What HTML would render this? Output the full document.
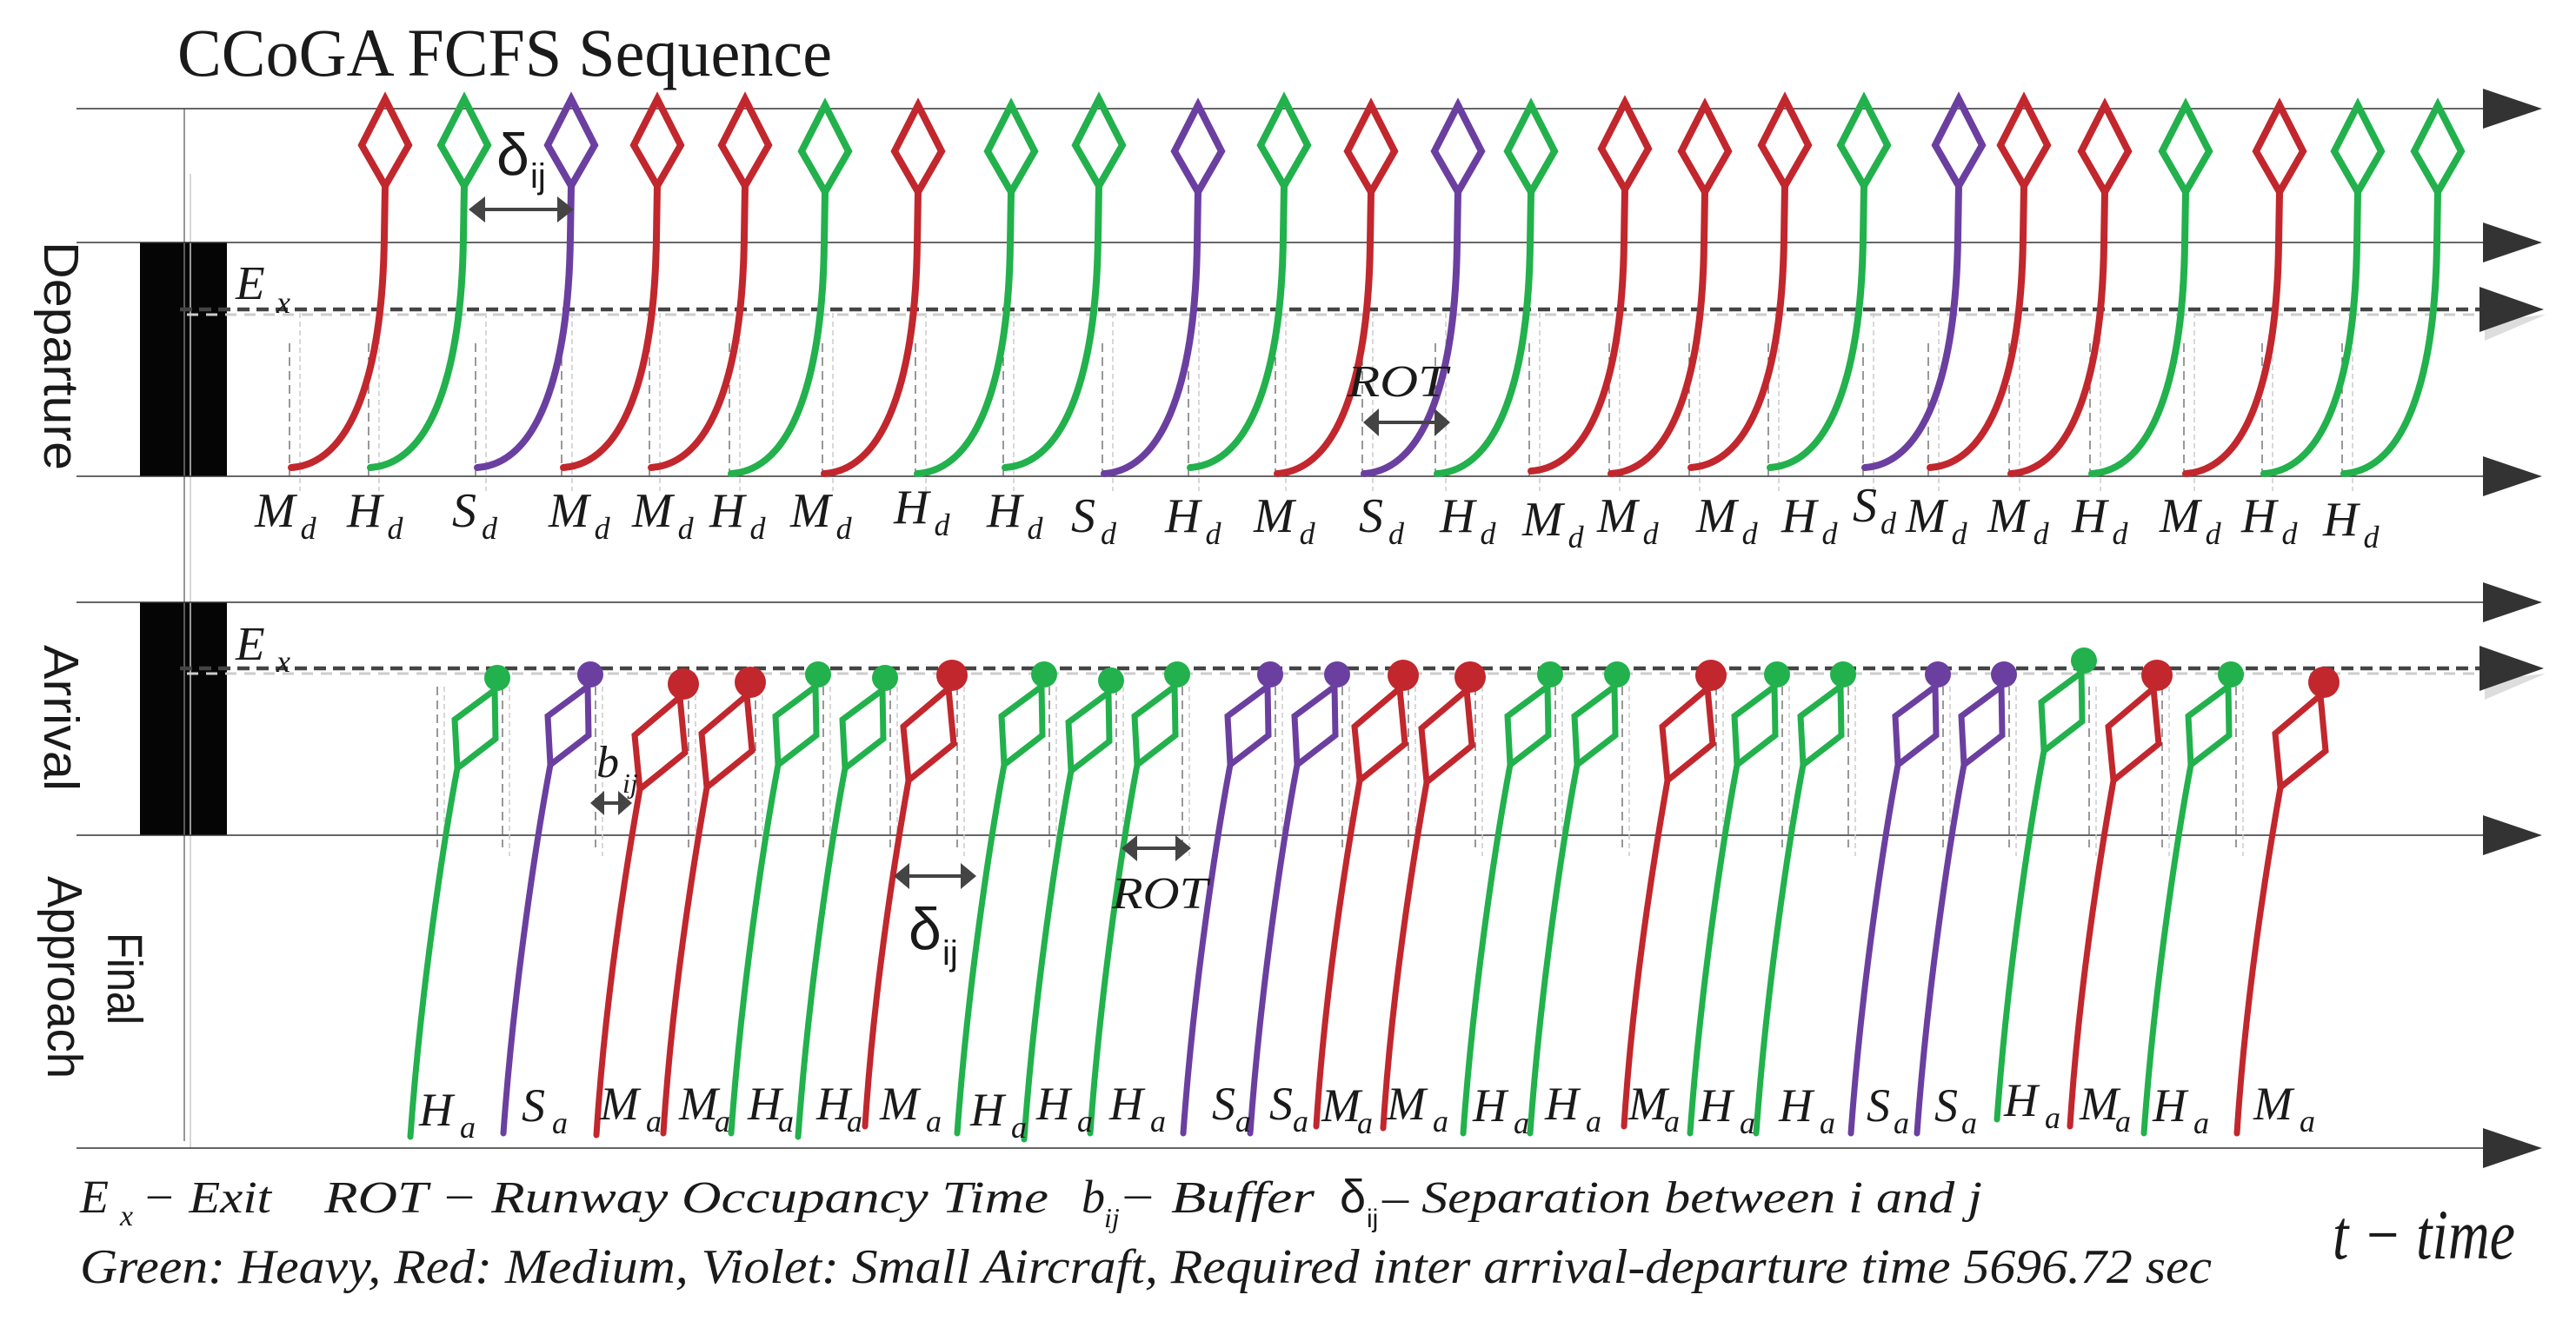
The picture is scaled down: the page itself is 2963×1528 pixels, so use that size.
<!DOCTYPE html>
<html><head><meta charset="utf-8"><style>
html,body{margin:0;padding:0;background:#fff;}
svg{display:block;}
.it{font-family:"Liberation Serif",serif;font-style:italic;fill:#1a1a1a;}
.sf{font-family:"Liberation Sans",sans-serif;fill:#1a1a1a;}
</style></head><body>
<svg width="2963" height="1528" viewBox="0 0 2963 1528" xmlns="http://www.w3.org/2000/svg">
<defs>
<g id="dep"><path d="M0,121 L27,174 L0,221 L-27,174 Z M0,221 L-1,280 C-3,430 -36,540 -108,545" fill="none" stroke="currentColor" stroke-width="8" stroke-linecap="round"/></g>
<g id="arrA"><circle cx="0" cy="0" r="15" fill="currentColor"/><path d="M0,0 L-3,14 L-49,48 L-46,104 L-2,70 L-3,14 M-46,104 C-62,190 -88,360 -100,528" fill="none" stroke="currentColor" stroke-width="7" stroke-linecap="round"/></g>
<g id="arrR"><circle cx="0" cy="9" r="18" fill="currentColor"/><path d="M0,9 L-4,24 L-56,68 L-50,130 L2,88 L-4,24 M-50,130 C-64,210 -90,370 -100,528" fill="none" stroke="currentColor" stroke-width="7" stroke-linecap="round"/></g>
</defs>

<text x="204" y="87" font-family="Liberation Serif, serif" font-size="78" fill="#1a1a1a" textLength="753" lengthAdjust="spacingAndGlyphs">CCoGA FCFS Sequence</text>

<rect x="161" y="279" width="100" height="269" fill="#050505"/>
<rect x="161" y="693" width="100" height="268" fill="#050505"/>
<line x1="212" y1="125" x2="212" y2="1313" stroke="#777" stroke-width="1.5"/>
<line x1="219" y1="200" x2="219" y2="1321" stroke="#ccc" stroke-width="1.5"/>

<g stroke="#333" stroke-width="1.5">
<line x1="88" y1="125" x2="2860" y2="125"/>
<line x1="88" y1="279" x2="2860" y2="279"/>
<line x1="88" y1="548" x2="2860" y2="548"/>
<line x1="88" y1="693" x2="2860" y2="693"/>
<line x1="88" y1="961" x2="2860" y2="961"/>
<line x1="88" y1="1321" x2="2860" y2="1321"/>
</g>
<g stroke="#ccc" stroke-width="3" stroke-dasharray="13 9">
<line x1="215" y1="362" x2="2900" y2="362"/>
<line x1="215" y1="775" x2="2900" y2="775"/>
</g>
<g stroke="#444" stroke-width="4.5" stroke-dasharray="14 8">
<line x1="207" y1="356" x2="2860" y2="356"/>
<line x1="207" y1="769" x2="2860" y2="769"/>
</g>
<g fill="#ddd">
<polygon points="2858,370 2928,362 2858,392"/>
<polygon points="2858,783 2928,775 2858,805"/>
</g>
<g fill="#333">
<polygon points="2856,102 2924,125 2856,148"/>
<polygon points="2856,256 2924,279 2856,302"/>
<polygon points="2852,330 2926,356 2852,382"/>
<polygon points="2856,525 2924,548 2856,571"/>
<polygon points="2856,670 2924,693 2856,716"/>
<polygon points="2852,743 2926,769 2852,795"/>
<polygon points="2856,938 2924,961 2856,984"/>
<polygon points="2856,1298 2924,1321 2856,1344"/>
</g>

<text class="sf" font-size="57" transform="translate(51,278) rotate(90)" textLength="263" lengthAdjust="spacingAndGlyphs">Departure</text>
<text class="sf" font-size="57" transform="translate(51,742) rotate(90)" textLength="168" lengthAdjust="spacingAndGlyphs">Arrival</text>
<text class="sf" font-size="57" transform="translate(55,1008) rotate(90)" textLength="233" lengthAdjust="spacingAndGlyphs">Approach</text>
<text class="sf" font-size="57" transform="translate(124,1073) rotate(90)" textLength="106" lengthAdjust="spacingAndGlyphs">Final</text>

<text class="it" x="271" y="344" font-size="55">E</text><text class="it" x="318" y="360" font-size="36">x</text>
<text class="it" x="271" y="759" font-size="55">E</text><text class="it" x="318" y="773" font-size="36">x</text>

<path d="M333,395V548M424,395V548M547,395V548M646,395V548M747,395V548M839,395V548M946,395V548M1053,395V548M1154,395V548M1268,395V548M1367,395V548M1467,395V548M1567,395V548M1651,395V548M1759,395V548M1851,395V548M1943,395V548M2034,395V548M2143,395V548M2218,395V548M2311,395V548M2404,395V548M2512,395V548M2602,395V548M2694,395V548" stroke="#555" stroke-width="1.2" stroke-dasharray="10 6" fill="none"/>
<path d="M345,360V565M436,360V565M559,360V565M658,360V565M759,360V565M851,360V565M958,360V565M1065,360V565M1166,360V565M1280,360V565M1379,360V565M1479,360V565M1579,360V565M1663,360V565M1771,360V565M1863,360V565M1955,360V565M2046,360V565M2155,360V565M2230,360V565M2323,360V565M2416,360V565M2524,360V565M2614,360V565M2706,360V565" stroke="#ccc" stroke-width="1.5" stroke-dasharray="6 4" fill="none"/>

<use href="#dep" x="443" y="-7" style="color:#c1272d"/>
<use href="#dep" x="534" y="-7" style="color:#22b14c"/>
<use href="#dep" x="657" y="-7" style="color:#6b3fa0"/>
<use href="#dep" x="756" y="-7" style="color:#c1272d"/>
<use href="#dep" x="857" y="-7" style="color:#c1272d"/>
<use href="#dep" x="949" y="0" style="color:#22b14c"/>
<use href="#dep" x="1056" y="0" style="color:#c1272d"/>
<use href="#dep" x="1163" y="0" style="color:#22b14c"/>
<use href="#dep" x="1264" y="-7" style="color:#22b14c"/>
<use href="#dep" x="1378" y="0" style="color:#6b3fa0"/>
<use href="#dep" x="1477" y="-7" style="color:#22b14c"/>
<use href="#dep" x="1577" y="0" style="color:#c1272d"/>
<use href="#dep" x="1677" y="0" style="color:#6b3fa0"/>
<use href="#dep" x="1761" y="0" style="color:#22b14c"/>
<use href="#dep" x="1869" y="-3" style="color:#c1272d"/>
<use href="#dep" x="1961" y="0" style="color:#c1272d"/>
<use href="#dep" x="2053" y="-7" style="color:#c1272d"/>
<use href="#dep" x="2144" y="-7" style="color:#22b14c"/>
<use href="#dep" x="2253" y="-7" style="color:#6b3fa0"/>
<use href="#dep" x="2328" y="-7" style="color:#c1272d"/>
<use href="#dep" x="2421" y="0" style="color:#c1272d"/>
<use href="#dep" x="2514" y="0" style="color:#22b14c"/>
<use href="#dep" x="2622" y="0" style="color:#c1272d"/>
<use href="#dep" x="2712" y="0" style="color:#22b14c"/>
<use href="#dep" x="2804" y="0" style="color:#22b14c"/>

<g class="it" font-size="56">
<text x="293" y="606">M<tspan font-size="36" dx="6" dy="14">d</tspan></text>
<text x="399" y="606">H<tspan font-size="36" dx="6" dy="14">d</tspan></text>
<text x="520" y="606">S<tspan font-size="36" dx="6" dy="14">d</tspan></text>
<text x="631" y="606">M<tspan font-size="36" dx="6" dy="14">d</tspan></text>
<text x="727" y="606">M<tspan font-size="36" dx="6" dy="14">d</tspan></text>
<text x="816" y="606">H<tspan font-size="36" dx="6" dy="14">d</tspan></text>
<text x="909" y="606">M<tspan font-size="36" dx="6" dy="14">d</tspan></text>
<text x="1028" y="602">H<tspan font-size="36" dx="6" dy="14">d</tspan></text>
<text x="1135" y="606">H<tspan font-size="36" dx="6" dy="14">d</tspan></text>
<text x="1232" y="612">S<tspan font-size="36" dx="6" dy="14">d</tspan></text>
<text x="1340" y="612">H<tspan font-size="36" dx="6" dy="14">d</tspan></text>
<text x="1442" y="612">M<tspan font-size="36" dx="6" dy="14">d</tspan></text>
<text x="1563" y="612">S<tspan font-size="36" dx="6" dy="14">d</tspan></text>
<text x="1656" y="612">H<tspan font-size="36" dx="6" dy="14">d</tspan></text>
<text x="1751" y="616">M<tspan font-size="36" dx="6" dy="14">d</tspan></text>
<text x="1837" y="612">M<tspan font-size="36" dx="6" dy="14">d</tspan></text>
<text x="1951" y="612">M<tspan font-size="36" dx="6" dy="14">d</tspan></text>
<text x="2049" y="612">H<tspan font-size="36" dx="6" dy="14">d</tspan></text>
<text x="2131" y="600">S<tspan font-size="36" dx="4" dy="14">d</tspan></text>
<text x="2192" y="612">M<tspan font-size="36" dx="6" dy="14">d</tspan></text>
<text x="2286" y="612">M<tspan font-size="36" dx="6" dy="14">d</tspan></text>
<text x="2383" y="612">H<tspan font-size="36" dx="6" dy="14">d</tspan></text>
<text x="2484" y="612">M<tspan font-size="36" dx="6" dy="14">d</tspan></text>
<text x="2578" y="612">H<tspan font-size="36" dx="6" dy="14">d</tspan></text>
<text x="2672" y="616">H<tspan font-size="36" dx="6" dy="14">d</tspan></text>
</g>

<g fill="#444" stroke="#444">
<line x1="555" y1="241" x2="644" y2="241" stroke-width="4"/>
<polygon points="539,241 558,226 558,256" stroke="none"/>
<polygon points="660,241 641,226 641,256" stroke="none"/>
<line x1="1584" y1="486" x2="1652" y2="486" stroke-width="4"/>
<polygon points="1568,486 1586,470 1586,502" stroke="none"/>
<polygon points="1668,486 1650,470 1650,502" stroke="none"/>
</g>
<text class="sf" x="571" y="201" font-size="68">δ</text><text class="sf" x="610" y="216" font-size="40">ij</text>
<text class="it" x="1550" y="456" font-size="52" fill="#333" textLength="115" lengthAdjust="spacingAndGlyphs">ROT</text>

<path d="M503,790V975M578,790V975M685,790V975M792,790V975M869,790V975M947,790V975M1024,790V975M1101,790V975M1207,790V975M1284,790V975M1360,790V975M1467,790V975M1544,790V975M1620,790V975M1697,790V975M1789,790V975M1866,790V975M1974,790V975M2050,790V975M2126,790V975M2235,790V975M2311,790V975M2403,790V975M2487,790V975M2572,790V975" stroke="#555" stroke-width="1.2" stroke-dasharray="10 6" fill="none"/>
<path d="M511,790V985M586,790V985M693,790V985M800,790V985M877,790V985M955,790V985M1032,790V985M1109,790V985M1215,790V985M1292,790V985M1368,790V985M1475,790V985M1552,790V985M1628,790V985M1705,790V985M1797,790V985M1874,790V985M1982,790V985M2058,790V985M2134,790V985M2243,790V985M2319,790V985M2411,790V985M2495,790V985M2580,790V985" stroke="#ccc" stroke-width="1.5" stroke-dasharray="6 4" fill="none"/>

<use href="#arrA" x="572" y="780" style="color:#22b14c"/>
<use href="#arrA" x="679" y="776" style="color:#6b3fa0"/>
<use href="#arrR" x="786" y="778" style="color:#c1272d"/>
<use href="#arrR" x="863" y="776" style="color:#c1272d"/>
<use href="#arrA" x="941" y="776" style="color:#22b14c"/>
<use href="#arrA" x="1018" y="780" style="color:#22b14c"/>
<use href="#arrR" x="1095" y="768" style="color:#c1272d"/>
<use href="#arrA" x="1201" y="776" style="color:#22b14c"/>
<use href="#arrA" x="1278" y="783" style="color:#22b14c"/>
<use href="#arrA" x="1354" y="776" style="color:#22b14c"/>
<use href="#arrA" x="1461" y="776" style="color:#6b3fa0"/>
<use href="#arrA" x="1538" y="776" style="color:#6b3fa0"/>
<use href="#arrR" x="1614" y="768" style="color:#c1272d"/>
<use href="#arrR" x="1691" y="770" style="color:#c1272d"/>
<use href="#arrA" x="1783" y="776" style="color:#22b14c"/>
<use href="#arrA" x="1860" y="776" style="color:#22b14c"/>
<use href="#arrR" x="1968" y="768" style="color:#c1272d"/>
<use href="#arrA" x="2044" y="776" style="color:#22b14c"/>
<use href="#arrA" x="2120" y="776" style="color:#22b14c"/>
<use href="#arrA" x="2229" y="776" style="color:#6b3fa0"/>
<use href="#arrA" x="2305" y="776" style="color:#6b3fa0"/>
<use href="#arrA" x="2397" y="760" style="color:#22b14c"/>
<use href="#arrR" x="2481" y="768" style="color:#c1272d"/>
<use href="#arrA" x="2566" y="776" style="color:#22b14c"/>
<use href="#arrR" x="2673" y="776" style="color:#c1272d"/>

<g class="it" font-size="54">
<text x="482" y="1295">H<tspan font-size="36" dx="8" dy="14">a</tspan></text>
<text x="600" y="1290">S<tspan font-size="36" dx="8" dy="14">a</tspan></text>
<text x="690" y="1288">M<tspan font-size="36" dx="8" dy="14">a</tspan></text>
<text x="781" y="1288">M<tspan font-size="36" dx="-4" dy="14">a</tspan></text>
<text x="860" y="1288">H<tspan font-size="36" dx="-4" dy="14">a</tspan></text>
<text x="939" y="1288">H<tspan font-size="36" dx="-4" dy="14">a</tspan></text>
<text x="1012" y="1288">M<tspan font-size="36" dx="8" dy="14">a</tspan></text>
<text x="1116" y="1295">H<tspan font-size="36" dx="8" dy="14">a</tspan></text>
<text x="1192" y="1288">H<tspan font-size="36" dx="8" dy="14">a</tspan></text>
<text x="1276" y="1288">H<tspan font-size="36" dx="8" dy="14">a</tspan></text>
<text x="1394" y="1288">S<tspan font-size="36" dx="0" dy="14">a</tspan></text>
<text x="1460" y="1288">S<tspan font-size="36" dx="0" dy="14">a</tspan></text>
<text x="1520" y="1290">M<tspan font-size="36" dx="-4" dy="14">a</tspan></text>
<text x="1595" y="1288">M<tspan font-size="36" dx="8" dy="14">a</tspan></text>
<text x="1694" y="1290">H<tspan font-size="36" dx="8" dy="14">a</tspan></text>
<text x="1777" y="1288">H<tspan font-size="36" dx="8" dy="14">a</tspan></text>
<text x="1873" y="1288">M<tspan font-size="36" dx="-4" dy="14">a</tspan></text>
<text x="1954" y="1290">H<tspan font-size="36" dx="8" dy="14">a</tspan></text>
<text x="2046" y="1290">H<tspan font-size="36" dx="8" dy="14">a</tspan></text>
<text x="2147" y="1290">S<tspan font-size="36" dx="4" dy="14">a</tspan></text>
<text x="2225" y="1290">S<tspan font-size="36" dx="4" dy="14">a</tspan></text>
<text x="2305" y="1284">H<tspan font-size="36" dx="8" dy="14">a</tspan></text>
<text x="2392" y="1288">M<tspan font-size="36" dx="-4" dy="14">a</tspan></text>
<text x="2476" y="1290">H<tspan font-size="36" dx="8" dy="14">a</tspan></text>
<text x="2592" y="1288">M<tspan font-size="36" dx="8" dy="14">a</tspan></text>
</g>

<g fill="#444" stroke="#444">
<line x1="1044" y1="1008" x2="1107" y2="1008" stroke-width="4"/>
<polygon points="1028,1008 1046,993 1046,1023" stroke="none"/>
<polygon points="1123,1008 1105,993 1105,1023" stroke="none"/>
<line x1="1306" y1="976" x2="1354" y2="976" stroke-width="4"/>
<polygon points="1290,976 1308,961 1308,991" stroke="none"/>
<polygon points="1370,976 1352,961 1352,991" stroke="none"/>
<line x1="693" y1="924" x2="713" y2="924" stroke-width="4"/>
<polygon points="679,924 695,910 695,938" stroke="none"/>
<polygon points="727,924 711,910 711,938" stroke="none"/>
</g>
<text class="sf" x="1045" y="1092" font-size="68">δ</text><text class="sf" x="1084" y="1110" font-size="40">ij</text>
<text class="it" x="1279" y="1045" font-size="52" fill="#333" textLength="110" lengthAdjust="spacingAndGlyphs">ROT</text>
<text class="it" x="686" y="894" font-size="52">b</text><text class="it" x="716" y="912" font-size="32">ij</text>

<text class="it" x="92" y="1395" font-size="54">E</text><text class="it" x="138" y="1410" font-size="34">x</text>
<text class="it" x="163" y="1395" font-size="52" textLength="149" lengthAdjust="spacingAndGlyphs">− Exit</text>
<text class="it" x="373" y="1395" font-size="52" textLength="833" lengthAdjust="spacingAndGlyphs">ROT − Runway Occupancy Time</text>
<text class="it" x="1244" y="1395" font-size="54">b</text><text class="it" x="1270" y="1412" font-size="32">ij</text>
<text class="it" x="1286" y="1395" font-size="52" textLength="226" lengthAdjust="spacingAndGlyphs">− Buffer</text>
<text class="sf" x="1541" y="1395" font-size="54">δ</text><text class="sf" x="1572" y="1412" font-size="30">ij</text>
<text class="it" x="1590" y="1395" font-size="52" textLength="690" lengthAdjust="spacingAndGlyphs">– Separation between i and j</text>
<text class="it" x="92" y="1476" font-size="56" textLength="2452" lengthAdjust="spacingAndGlyphs">Green: Heavy, Red: Medium, Violet: Small Aircraft, Required inter arrival-departure time 5696.72 sec</text>
<text class="it" x="2683" y="1448" font-size="82" textLength="210" lengthAdjust="spacingAndGlyphs">t − time</text>
</svg>
</body></html>
